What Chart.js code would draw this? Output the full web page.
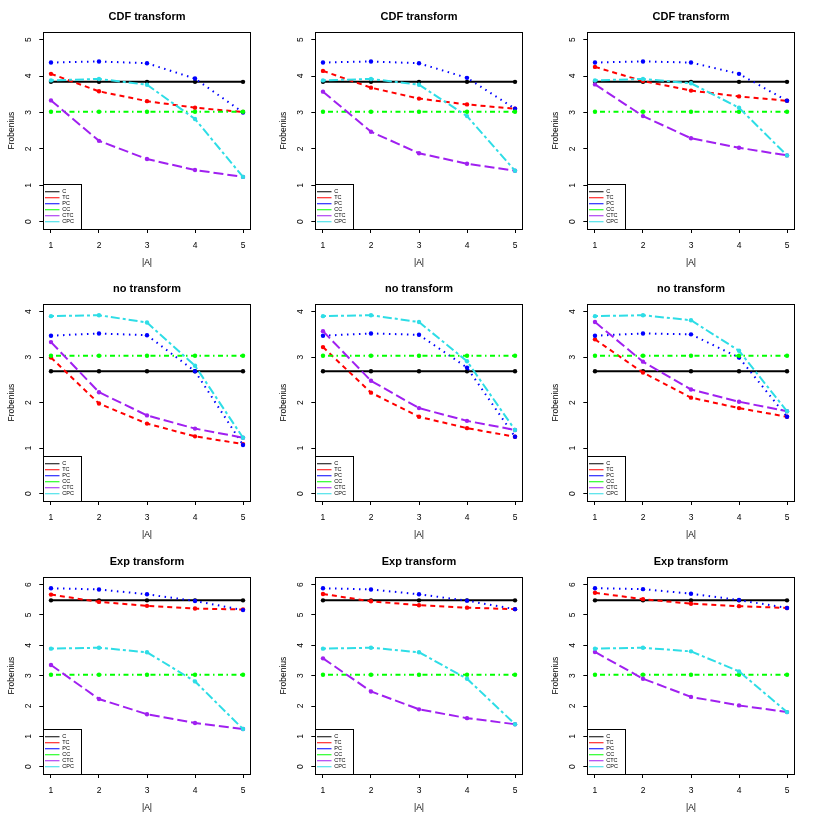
<!DOCTYPE html>
<html>
<head>
<meta charset="utf-8">
<script src="https://cdn.jsdelivr.net/npm/chart.js@4.4.1/dist/chart.umd.min.js"></script>
<style>
html,body{margin:0;padding:0;background:#fff;}
#wrap{position:relative;width:817px;height:817px;background:#fff;overflow:hidden;}
#wrap canvas{position:absolute;}
</style>
</head>
<body>
<div id="wrap"></div>
<script>
// ---------- data ----------
const categories = [1, 2, 3, 4, 5];
const xTicks = [1, 2, 3, 4, 5];
const seriesNames = ["C", "TC", "PC", "CC", "CTC", "CPC"];
const rowTitles = ["CDF transform", "no transform", "Exp transform"];
const yTicksCdf = [0, 1, 2, 3, 4, 5];
const yTicksNo = [0, 1, 2, 3, 4];
const yTicksExp = [0, 1, 2, 3, 4, 5, 6];

// CDF transform row
const cdf_C  = [3.84, 3.84, 3.84, 3.84, 3.84];
const cdf_CC = [3.02, 3.02, 3.02, 3.02, 3.02];
const cdf1_TC  = [4.06, 3.58, 3.31, 3.13, 3.01];
const cdf1_PC  = [4.37, 4.40, 4.35, 3.93, 3.00];
const cdf1_CTC = [3.33, 2.22, 1.72, 1.42, 1.23];
const cdf1_CPC = [3.88, 3.92, 3.76, 2.82, 1.23];
const cdf2_TC  = [4.14, 3.68, 3.38, 3.22, 3.10];
const cdf2_PC  = [4.37, 4.40, 4.35, 3.95, 3.10];
const cdf2_CTC = [3.57, 2.47, 1.88, 1.59, 1.40];
const cdf2_CPC = [3.88, 3.92, 3.76, 2.90, 1.40];
const cdf3_TC  = [4.25, 3.86, 3.60, 3.44, 3.32];
const cdf3_PC  = [4.37, 4.40, 4.37, 4.06, 3.32];
const cdf3_CTC = [3.77, 2.90, 2.29, 2.03, 1.82];
const cdf3_CPC = [3.88, 3.92, 3.80, 3.13, 1.82];

// no transform row
const no_C  = [2.69, 2.69, 2.69, 2.69, 2.69];
const no_CC = [3.03, 3.03, 3.03, 3.03, 3.03];
const no1_TC  = [2.99, 1.98, 1.54, 1.26, 1.09];
const no1_PC  = [3.47, 3.52, 3.48, 2.69, 1.07];
const no1_CTC = [3.33, 2.23, 1.72, 1.43, 1.23];
const no1_CPC = [3.90, 3.92, 3.76, 2.81, 1.23];
const no2_TC  = [3.22, 2.22, 1.69, 1.44, 1.25];
const no2_PC  = [3.47, 3.52, 3.49, 2.77, 1.25];
const no2_CTC = [3.57, 2.48, 1.88, 1.60, 1.40];
const no2_CPC = [3.90, 3.92, 3.77, 2.91, 1.40];
const no3_TC  = [3.39, 2.66, 2.11, 1.88, 1.69];
const no3_PC  = [3.47, 3.52, 3.50, 2.99, 1.69];
const no3_CTC = [3.77, 2.90, 2.29, 2.02, 1.81];
const no3_CPC = [3.90, 3.92, 3.81, 3.14, 1.81];

// Exp transform row
const exp_C  = [5.48, 5.48, 5.48, 5.48, 5.48];
const exp_CC = [3.03, 3.03, 3.03, 3.03, 3.03];
const exp1_TC  = [5.67, 5.43, 5.30, 5.21, 5.18];
const exp1_PC  = [5.88, 5.84, 5.68, 5.46, 5.16];
const exp1_CTC = [3.35, 2.23, 1.73, 1.44, 1.24];
const exp1_CPC = [3.89, 3.92, 3.77, 2.81, 1.24];
const exp2_TC  = [5.69, 5.45, 5.32, 5.24, 5.19];
const exp2_PC  = [5.88, 5.84, 5.68, 5.47, 5.19];
const exp2_CTC = [3.57, 2.48, 1.89, 1.60, 1.40];
const exp2_CPC = [3.89, 3.92, 3.77, 2.90, 1.40];
const exp3_TC  = [5.73, 5.52, 5.37, 5.29, 5.23];
const exp3_PC  = [5.88, 5.85, 5.70, 5.49, 5.23];
const exp3_CTC = [3.78, 2.90, 2.30, 2.02, 1.80];
const exp3_CPC = [3.89, 3.92, 3.80, 3.14, 1.80];

// ---------- styles ----------
const FONT = '"Liberation Sans", Arial, Helvetica, sans-serif';
const colors = ['#000000', '#FF0000', '#0000FF', '#00FF00', '#A020F0', '#2EDDE6'];
const dashes = [[], [5, 4], [1.5, 4.5], [1.5, 3.5, 5, 3.5], [10, 4], [3, 3, 9, 3]];
const colLeft = [0, 272, 544];
const rowTop = [0, 272, 545];

const panels = [
  {row: 0, col: 0, yTicks: yTicksCdf, series: [cdf_C, cdf1_TC, cdf1_PC, cdf_CC, cdf1_CTC, cdf1_CPC]},
  {row: 0, col: 1, yTicks: yTicksCdf, series: [cdf_C, cdf2_TC, cdf2_PC, cdf_CC, cdf2_CTC, cdf2_CPC]},
  {row: 0, col: 2, yTicks: yTicksCdf, series: [cdf_C, cdf3_TC, cdf3_PC, cdf_CC, cdf3_CTC, cdf3_CPC]},
  {row: 1, col: 0, yTicks: yTicksNo, series: [no_C, no1_TC, no1_PC, no_CC, no1_CTC, no1_CPC]},
  {row: 1, col: 1, yTicks: yTicksNo, series: [no_C, no2_TC, no2_PC, no_CC, no2_CTC, no2_CPC]},
  {row: 1, col: 2, yTicks: yTicksNo, series: [no_C, no3_TC, no3_PC, no_CC, no3_CTC, no3_CPC]},
  {row: 2, col: 0, yTicks: yTicksExp, series: [exp_C, exp1_TC, exp1_PC, exp_CC, exp1_CTC, exp1_CPC]},
  {row: 2, col: 1, yTicks: yTicksExp, series: [exp_C, exp2_TC, exp2_PC, exp_CC, exp2_CTC, exp2_CPC]},
  {row: 2, col: 2, yTicks: yTicksExp, series: [exp_C, exp3_TC, exp3_PC, exp_CC, exp3_CTC, exp3_CPC]}
];

const LEG_FONT = 5.5, LEG_PAD = 0.5, LEG_BOXW = 14.5;

const boxPlugin = {
  id: 'rbox',
  afterLayout(chart) {
    const lg = chart.legend;
    if (lg) {
      lg.bottom = Math.round(chart.chartArea.bottom) - 4;
      lg.left += 1.2;
      if (lg.columnSizes) {
        lg.columnSizes.forEach(c => { c.height = lg.legendItems.length * (LEG_FONT + LEG_PAD); });
      }
    }
  },
  afterDraw(chart) {
    const {ctx, chartArea: a} = chart;
    ctx.save();
    ctx.setLineDash([]);
    ctx.strokeStyle = '#000';
    ctx.lineWidth = 1;
    const x0 = Math.floor(a.left) + 0.5, y0 = Math.floor(a.top) + 0.5;
    const x1 = Math.floor(a.right) + 0.5, y1 = Math.floor(a.bottom) + 0.5;
    ctx.strokeRect(x0, y0, x1 - x0, y1 - y0);
    // legend frame
    const lg = chart.legend;
    if (lg && lg.columnSizes && lg.columnSizes.length) {
      ctx.font = LEG_FONT + 'px ' + FONT;
      let w = 0;
      lg.legendItems.forEach(it => { w = Math.max(w, ctx.measureText(it.text).width); });
      const textX = lg.left + LEG_PAD + LEG_BOXW + LEG_FONT / 2;
      const ly0 = Math.floor(lg.bottom - lg.columnSizes[0].height - 5) + 0.5;
      const lx1 = Math.floor(textX + w + 7.5) + 0.5;
      ctx.strokeRect(x0, ly0, lx1 - x0, y1 - ly0);
    }
    ctx.restore();
  }
};

panels.forEach(p => {
  const cv = document.createElement('canvas');
  cv.width = 272; cv.height = 272;
  cv.style.left = colLeft[p.col] + 'px';
  cv.style.top = rowTop[p.row] + 'px';
  cv.style.width = '272px'; cv.style.height = '272px';
  document.getElementById('wrap').appendChild(cv);

  const yMax = p.yTicks[p.yTicks.length - 1];
  const ext = 0.04 * yMax;

  const datasets = p.series.map((vals, i) => ({
    label: seriesNames[i],
    data: categories.map((x, j) => ({x: x, y: vals[j]})),
    borderColor: colors[i],
    backgroundColor: colors[i],
    borderDash: dashes[i],
    borderWidth: 2,
    pointRadius: 2.2,
    pointHoverRadius: 2.2,
    pointBorderWidth: 0,
    pointBackgroundColor: colors[i],
    tension: 0,
    fill: false,
    order: seriesNames.length - i
  }));

  const tickFont = {family: FONT, size: 8.5};

  new Chart(cv, {
    type: 'line',
    data: {datasets},
    plugins: [boxPlugin],
    options: {
      responsive: false,
      animation: false,
      devicePixelRatio: 1,
      events: [],
      layout: {padding: {left: 0, top: 0, right: 21.3, bottom: 0}},
      plugins: {
        tooltip: {enabled: false},
        title: {
          display: true, text: rowTitles[p.row], fullSize: false, color: '#000',
          font: {family: FONT, size: 11, weight: 'bold'},
          padding: {top: 10, bottom: 9.1}
        },
        legend: {
          display: true, position: 'chartArea', align: 'end',
          labels: {
            usePointStyle: true, pointStyle: 'line', pointStyleWidth: LEG_BOXW,
            boxHeight: LEG_FONT, padding: LEG_PAD, color: '#000',
            font: {family: FONT, size: LEG_FONT},
            sort: (a, b) => a.datasetIndex - b.datasetIndex,
            generateLabels: chart => Chart.defaults.plugins.legend.labels.generateLabels(chart)
              .map(it => Object.assign({}, it, {lineWidth: 1.1}))
          }
        }
      },
      scales: {
        x: {
          type: 'linear', position: 'bottom', min: 0.84, max: 5.16, bounds: 'data',
          afterBuildTicks: s => { s.ticks = xTicks.map(v => ({value: v})); },
          afterFit: s => { s.height = 43; },
          grid: {display: true, drawOnChartArea: false, drawTicks: true, tickLength: 4, color: '#000', lineWidth: 1},
          border: {display: false},
          ticks: {color: '#000', font: tickFont, padding: 8, autoSkip: false, minRotation: 0, maxRotation: 0,
                  callback: v => String(v)},
          title: {display: true, text: '|A|', color: '#000', font: tickFont, padding: {top: 0, bottom: 3.8}}
        },
        y: {
          type: 'linear', position: 'left', min: -ext, max: yMax + ext, bounds: 'data',
          afterBuildTicks: s => { s.ticks = p.yTicks.map(v => ({value: v})); },
          afterFit: s => { s.width = 43.3; },
          grid: {display: true, drawOnChartArea: false, drawTicks: true, tickLength: 4, color: '#000', lineWidth: 1},
          border: {display: false},
          ticks: {color: '#000', font: tickFont, padding: 8.4, autoSkip: false, minRotation: 90, maxRotation: 90,
                  crossAlign: 'center', callback: v => String(v)},
          title: {display: true, text: 'Frobenius', color: '#000', font: tickFont, padding: {top: 6.6, bottom: 0}}
        }
      }
    }
  });
});
</script>
</body>
</html>
